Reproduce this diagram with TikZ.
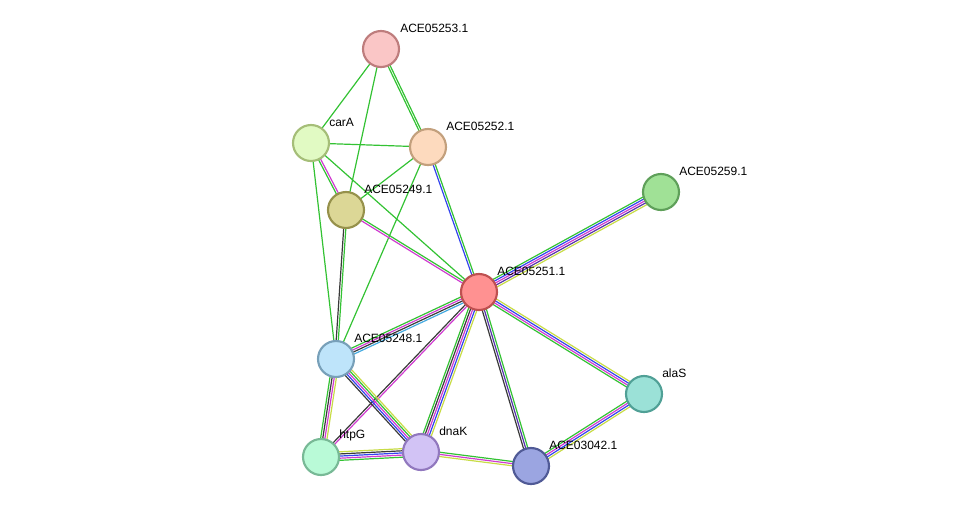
\documentclass[tikz,border=0pt]{standalone}
\usepackage{fontspec}
\setmainfont{Liberation Sans}
\usetikzlibrary{calc,backgrounds}

\definecolor{egreen}{HTML}{33C233}
\definecolor{eblack}{HTML}{3A3A3A}
\definecolor{emag}{HTML}{D03CD0}
\definecolor{eblue}{HTML}{3344EE}
\definecolor{eyel}{HTML}{C8DC46}
\definecolor{ecyan}{HTML}{44AAE0}
\definecolor{epurp}{HTML}{5533AA}

\tikzset{
  prot/.style={circle, minimum size=27pt, inner sep=0pt, line width=1.6pt},
  lbl/.style={anchor=south west, inner sep=0pt, font=\fontsize{9}{9}\selectfont},
}

% parallel coloured lines between two nodes
\newcommand{\edge}[3]{%
  \foreach \c [count=\i] in {#3} {\global\let\ncol\i}%
  \foreach \c [count=\i] in {#3} {
    \pgfmathsetmacro{\o}{(\i-(\ncol+1)/2)*1.6}
    \draw[\c, line width=0.9pt] ($(#1)!\o pt!90:(#2)$) -- ($(#2)!\o pt!-90:(#1)$);
  }}

\begin{document}
\begin{tikzpicture}[x=0.75pt, y=-0.75pt]
  \useasboundingbox (0,0) rectangle (976,512);

  % proteins
  \node [prot, draw={rgb,255:red,190;green,125;blue,125}, fill={rgb,255:red,250;green,198;blue,198}] (p53) at (381,49)  {};
  \node [prot, draw={rgb,255:red,165;green,190;blue,120}, fill={rgb,255:red,225;green,250;blue,195}] (carA) at (311,143) {};
  \node [prot, draw={rgb,255:red,195;green,160;blue,125}, fill={rgb,255:red,253;green,218;blue,190}] (p52) at (428,147) {};
  \node [prot, draw={rgb,255:red,150;green,145;blue,75},  fill={rgb,255:red,220;green,215;blue,150}] (p49) at (346,210) {};
  \node [prot, draw={rgb,255:red,95;green,160;blue,90},   fill={rgb,255:red,160;green,225;blue,150}] (p59) at (661,192) {};
  \node [prot, draw={rgb,255:red,190;green,80;blue,80},   fill={rgb,255:red,255;green,145;blue,145}] (p51) at (479,292) {};
  \node [prot, draw={rgb,255:red,120;green,160;blue,185}, fill={rgb,255:red,190;green,228;blue,250}] (p48) at (336,359) {};
  \node [prot, draw={rgb,255:red,80;green,160;blue,150},  fill={rgb,255:red,155;green,225;blue,215}] (alaS) at (644,394) {};
  \node [prot, draw={rgb,255:red,120;green,185;blue,150}, fill={rgb,255:red,185;green,250;blue,215}] (htpG) at (321,457) {};
  \node [prot, draw={rgb,255:red,145;green,120;blue,190}, fill={rgb,255:red,210;green,195;blue,245}] (dnaK) at (421,452) {};
  \node [prot, draw={rgb,255:red,80;green,90;blue,150},   fill={rgb,255:red,155;green,165;blue,225}] (p42) at (531,466) {};

  % labels
  \node [lbl] at (400,33)  {ACE05253.1};
  \node [lbl] at (329,127) {carA};
  \node [lbl] at (446,131) {ACE05252.1};
  \node [lbl] at (364,194) {ACE05249.1};
  \node [lbl] at (679,176) {ACE05259.1};
  \node [lbl] at (497,276) {ACE05251.1};
  \node [lbl] at (354,343) {ACE05248.1};
  \node [lbl] at (662,378) {alaS};
  \node [lbl] at (339,441) {htpG};
  \node [lbl] at (439,436) {dnaK};
  \node [lbl] at (549,450) {ACE03042.1};

  % interactions
  \begin{scope}[on background layer]
    \edge{p53}{carA}{egreen}
    \edge{p53}{p52}{egreen,egreen}
    \edge{p53}{p49}{egreen}
    \edge{carA}{p52}{egreen}
    \edge{carA}{p49}{egreen,emag}
    \edge{carA}{p51}{egreen}
    \edge{carA}{p48}{egreen}
    \edge{p52}{p49}{egreen}
    \edge{p52}{p51}{eblue,egreen}
    \edge{p52}{p48}{egreen}
    \edge{p49}{p51}{emag,egreen}
    \edge{p49}{p48}{eblack,egreen}
    \edge{p59}{p51}{egreen,eblue,emag,epurp,eyel}
    \edge{p51}{p48}{egreen,emag,eblack,ecyan}
    \edge{p51}{htpG}{eblack,emag}
    \edge{p51}{dnaK}{egreen,eblack,emag,eblue,eyel}
    \edge{p51}{p42}{eblack,epurp,egreen}
    \edge{p51}{alaS}{egreen,emag,eblue,eyel}
    \edge{p48}{htpG}{egreen,eblack,emag,eyel}
    \edge{p48}{dnaK}{eblack,eblue,emag,egreen,eyel}
    \edge{htpG}{dnaK}{egreen,emag,eblue,eblack,eyel}
    \edge{dnaK}{p42}{eyel,emag,egreen}
    \edge{alaS}{p42}{egreen,emag,eblue,eyel}
  \end{scope}
\end{tikzpicture}
\end{document}
